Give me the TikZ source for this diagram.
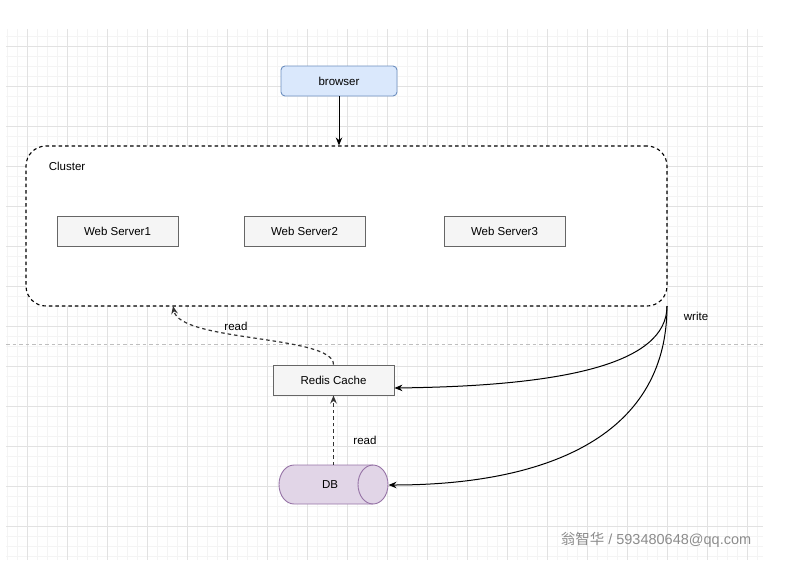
\documentclass[tikz,border=0pt]{standalone}
\usepackage{fontspec}
\setmainfont{Liberation Sans}
\newfontfamily\cjk{Noto Sans CJK SC}
\usetikzlibrary{arrows.meta}
\definecolor{blueFill}{HTML}{DAE8FC}
\definecolor{blueLine}{HTML}{6C8EBF}
\definecolor{grayFill}{HTML}{F5F5F5}
\definecolor{grayLine}{HTML}{666666}
\definecolor{purpleFill}{HTML}{E1D5E7}
\definecolor{purpleLine}{HTML}{9673A6}
\definecolor{gridMinor}{HTML}{F4F4F4}
\definecolor{gridMajor}{HTML}{E2E2E2}
\begin{document}
\begin{tikzpicture}[x=1pt, y=-1pt, line width=1pt, font=\fontsize{11.5}{13}\selectfont, >={Stealth[length=8pt,width=6.5pt]}]
	\tikzset{server/.style = {shape=rectangle, draw=grayLine, line width=0.9pt, fill=grayFill, minimum width=121pt, minimum height=30pt, inner sep=0pt}}
	\tikzset{dashline/.style = {dash pattern=on 3.5pt off 3pt}}
	\useasboundingbox (0,0) rectangle (811,581);
	% background grid
	\foreach \x in {7,17,...,757}{
		\draw[gridMinor, line width=0.8pt] (\x,29) -- (\x,560);
	}
	\foreach \y in {36,46,...,556}{
		\draw[gridMinor, line width=0.8pt] (6,\y) -- (763,\y);
	}
	\foreach \x in {27,67,...,747}{
		\draw[gridMajor, line width=0.8pt] (\x,29) -- (\x,560);
	}
	\foreach \y in {46,86,...,526}{
		\draw[gridMajor, line width=0.8pt] (6,\y) -- (763,\y);
	}
	\draw[black!25, dashline, line width=0.6pt] (6,344) -- (763,344);
	% nodes
	\node[draw=blueLine, line width=0.9pt, fill=blueFill, rounded corners=4pt, minimum width=116pt, minimum height=30pt, inner sep=0pt] (browser) at (339,81) {browser};
	\node[draw, dashline, line width=1.1pt, fill=white, rounded corners=20pt, minimum width=641pt, minimum height=160pt, inner sep=0pt] (cluster) at (346.5,226) {};
	\node[anchor=west] (clusterlabel) at (45,166) {Cluster};
	\node[server] (web1) at (117.5,231) {Web Server1};
	\node[server] (web2) at (304.5,231) {Web Server2};
	\node[server] (web3) at (504.5,231) {Web Server3};
	\node[server] (redis) at (333.5,380) {Redis Cache};
	% database cylinder
	\draw[purpleLine, line width=0.9pt, fill=purpleFill] (294,465) arc[start angle=90, end angle=270, x radius=15pt, y radius=19.5pt]
		-- (373,504) arc[start angle=270, end angle=450, x radius=15pt, y radius=19.5pt] -- cycle;
	\draw[purpleLine, line width=0.9pt] (373,465) arc[start angle=90, end angle=270, x radius=15pt, y radius=19.5pt];
	\node[minimum width=109pt, minimum height=39pt, inner sep=0pt] (db) at (333.5,485) {};
	\node (dblabel) at (330,485) {DB};
	\coordinate (cbottom) at (173,306);
	\coordinate (cright) at (667,306);
	% edges
	\draw[->] (browser) -- (cluster.north -| browser);
	\draw[->, dashline, black!80, line width=1.2pt] (redis.north) .. controls (333.5,335) and (180,342) .. (cbottom);
	\node (read1) at (236,326) {read};
	\draw[->, dashline, black!80, line width=1.2pt] (db.north) -- (redis);
	\node (read2) at (365,440) {read};
	\draw[->] (cright) .. controls (667,365) and (560,386) .. (redis.east |- 0,388);
	\draw[->] (cright) .. controls (667,440) and (540,485) .. (db.east);
	\node (write) at (696,316) {write};
	\node[text=black!45, font=\fontsize{14.5}{16}\selectfont] (mark) at (656,540) {{\cjk 翁智华} / 593480648@qq.com};
\end{tikzpicture}
\end{document}
